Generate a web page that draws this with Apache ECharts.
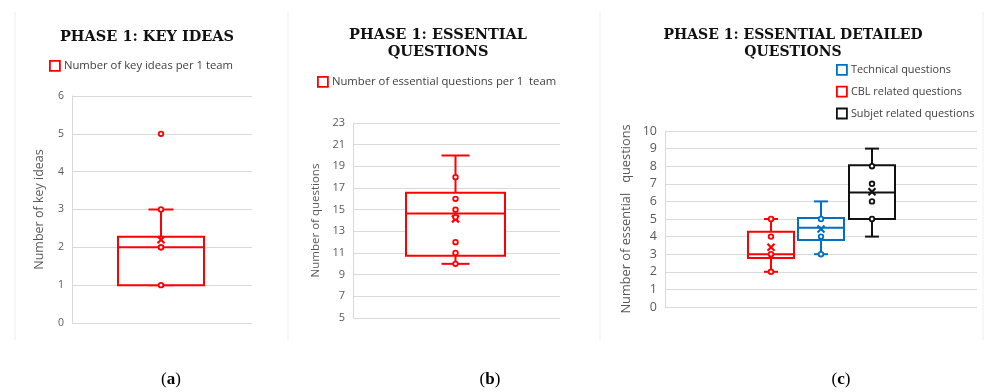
<!DOCTYPE html>
<html>
<head>
<meta charset="utf-8">
<script src="https://cdn.jsdelivr.net/npm/echarts@6/dist/echarts.min.js"></script>
<style>
html,body{margin:0;padding:0;background:#fff;}
#chart{width:985px;height:392px;}
</style>
</head>
<body>
<div id="chart"></div>
<script>
// ---------- data ----------
const panelTitles = ['PHASE 1: KEY IDEAS', 'PHASE 1: ESSENTIAL\nQUESTIONS', 'PHASE 1: ESSENTIAL DETAILED\nQUESTIONS'];
const panelLetters = ['a', 'b', 'c'];
const yAxisNames = ['Number of key ideas', 'Number of questions', 'Number of essential   questions'];

// box stats: [min, q1, median, q3, max]
const keyIdeasBox = [1, 1, 2, 2.28, 3];
const keyIdeasMean = 2.2;
const keyIdeasPoints = [1, 2, 2, 3, 5];

const essentialBox = [10, 10.75, 14.65, 16.57, 20];
const essentialMean = 14.15;
const essentialPoints = [10, 11, 12, 14.3, 15, 16, 18];

const cblBox = [2, 2.78, 3, 4.28, 5];
const cblMean = 3.4;
const cblPoints = [2, 3, 4, 5];

const technicalBox = [3, 3.8, 4.5, 5.05, 6];
const technicalMean = 4.43;
const technicalPoints = [3, 4, 5];

const subjectBox = [4, 5, 6.5, 8.05, 9];
const subjectMean = 6.55;
const subjectPoints = [5, 6, 7, 8];

const seriesNames = {
  keyIdeas: 'Number of key ideas per 1 team',
  essential: 'Number of essential questions per 1  team',
  technical: 'Technical questions',
  cbl: 'CBL related questions',
  subject: 'Subjet related questions'
};

// ---------- styles ----------
const RED = '#ff0000', BLUE = '#0070c0', BLACK = '#111111';
const GRID_COLOR = '#d9d9d9';
const LABEL_COLOR = '#595959';
const SANS = '"Open Sans", sans-serif';
const SERIF_TITLE = '"DejaVu Serif", serif';

function boxRenderer(color, offset, boxW, capW) {
  return function (params, api) {
    const x = api.value(0);
    const c = function (v) { return api.coord([x, v]); };
    const cx = c(api.value(1))[0] + offset;
    const yMin = c(api.value(1))[1];
    const yQ1 = c(api.value(2))[1];
    const yMed = c(api.value(3))[1];
    const yQ3 = c(api.value(4))[1];
    const yMax = c(api.value(5))[1];
    const yMean = c(api.value(6))[1];
    const ls = { stroke: color, lineWidth: 2, fill: null };
    const m = 3.5;
    return {
      type: 'group',
      children: [
        { type: 'line', shape: { x1: cx, y1: yQ3, x2: cx, y2: yMax }, style: ls },
        { type: 'line', shape: { x1: cx, y1: yQ1, x2: cx, y2: yMin }, style: ls },
        { type: 'line', shape: { x1: cx - capW / 2, y1: yMax, x2: cx + capW / 2, y2: yMax }, style: ls },
        { type: 'line', shape: { x1: cx - capW / 2, y1: yMin, x2: cx + capW / 2, y2: yMin }, style: ls },
        { type: 'rect', shape: { x: cx - boxW / 2, y: yQ3, width: boxW, height: yQ1 - yQ3 }, style: { fill: '#fff', stroke: color, lineWidth: 2 } },
        { type: 'line', shape: { x1: cx - boxW / 2, y1: yMed, x2: cx + boxW / 2, y2: yMed }, style: ls },
        { type: 'line', shape: { x1: cx - m, y1: yMean - m, x2: cx + m, y2: yMean + m }, style: { stroke: color, lineWidth: 2.2 } },
        { type: 'line', shape: { x1: cx - m, y1: yMean + m, x2: cx + m, y2: yMean - m }, style: { stroke: color, lineWidth: 2.2 } }
      ]
    };
  };
}

function pointRenderer(color, offset) {
  return function (params, api) {
    const p = api.coord([api.value(0), api.value(1)]);
    return {
      type: 'circle',
      shape: { cx: p[0] + offset, cy: p[1], r: 2.3 },
      style: { fill: '#fff', stroke: color, lineWidth: 1.8 }
    };
  };
}

function boxSeries(name, idx, box, mean, color, offset, boxW, capW) {
  return {
    type: 'custom', name: name, xAxisIndex: idx, yAxisIndex: idx,
    itemStyle: { color: color },
    renderItem: boxRenderer(color, offset, boxW, capW),
    encode: { x: 0, y: [1, 2, 3, 4, 5, 6] },
    data: [[0].concat(box).concat([mean])],
    z: 2, silent: true
  };
}
function pointSeries(idx, pts, color, offset) {
  return {
    type: 'custom', name: 'pts' + idx + color + offset, xAxisIndex: idx, yAxisIndex: idx,
    renderItem: pointRenderer(color, offset),
    encode: { x: 0, y: 1 },
    data: pts.map(function (v) { return [0, v]; }),
    z: 3, silent: true
  };
}

const grids = [
  { left: 72, right: 733, top: 96, bottom: 69 },
  { left: 353, right: 425, top: 123, bottom: 74 },
  { left: 665, right: 8, top: 131, bottom: 85 }
];
const yRanges = [[0, 6, 1], [5, 23, 2], [0, 10, 1]];
const yLabelSizes = [10.5, 11, 12.5];
const yNameSizes = [12.5, 11.5, 12.8];
const yNameGaps = [26, 31, 32];

function letterTitle(letter, x) {
  return { text: '({b|' + letter + '})', left: x, top: 366, textAlign: 'center',
    textStyle: { fontFamily: '"Liberation Serif", serif', fontSize: 17, color: '#000', fontWeight: 'normal',
      rich: { b: { fontFamily: '"Liberation Serif", serif', fontSize: 17, fontWeight: 'bold', color: '#000' } } } };
}

const option = {
  backgroundColor: '#fff',
  animation: false,
  title: [
    { text: panelTitles[0], left: 142, top: 24, textAlign: 'center',
      textStyle: { fontFamily: SERIF_TITLE, fontWeight: 'bold', fontSize: 14.5, color: '#111', lineHeight: 17 } },
    { text: panelTitles[1], left: 433, top: 22, textAlign: 'center',
      textStyle: { fontFamily: SERIF_TITLE, fontWeight: 'bold', fontSize: 14.5, color: '#111', lineHeight: 17, align: 'center' } },
    { text: panelTitles[2], left: 788, top: 22, textAlign: 'center',
      textStyle: { fontFamily: SERIF_TITLE, fontWeight: 'bold', fontSize: 14, color: '#111', lineHeight: 17, align: 'center' } },
    letterTitle(panelLetters[0], 166),
    letterTitle(panelLetters[1], 485),
    letterTitle(panelLetters[2], 836)
  ],
  legend: [
    { left: 44, top: 55, itemWidth: 10, itemHeight: 10, selectedMode: false,
      textStyle: { fontFamily: SANS, fontSize: 11.3, color: '#404040', padding: [0, 0, 0, -1] },
      data: [{ name: seriesNames.keyIdeas, icon: 'rect', itemStyle: { color: '#fff', borderColor: RED, borderWidth: 1.8 } }] },
    { left: 312, top: 71, itemWidth: 10, itemHeight: 10, selectedMode: false,
      textStyle: { fontFamily: SANS, fontSize: 11.3, color: '#404040', padding: [0, 0, 0, -1] },
      data: [{ name: seriesNames.essential, icon: 'rect', itemStyle: { color: '#fff', borderColor: RED, borderWidth: 1.8 } }] },
    { left: 831, top: 59, orient: 'vertical', itemWidth: 10, itemHeight: 10, itemGap: 10, selectedMode: false,
      textStyle: { fontFamily: SANS, fontSize: 10.9, color: '#404040', padding: [0, 0, 0, -1] },
      data: [
        { name: seriesNames.technical, icon: 'rect', itemStyle: { color: '#fff', borderColor: BLUE, borderWidth: 1.8 } },
        { name: seriesNames.cbl, icon: 'rect', itemStyle: { color: '#fff', borderColor: RED, borderWidth: 1.8 } },
        { name: seriesNames.subject, icon: 'rect', itemStyle: { color: '#fff', borderColor: BLACK, borderWidth: 1.8 } }
      ] }
  ],
  grid: grids,
  xAxis: [0, 1, 2].map(function (i) {
    return { type: 'category', gridIndex: i, data: [''], boundaryGap: true,
      axisLine: { show: false }, axisTick: { show: false }, axisLabel: { show: false }, splitLine: { show: false } };
  }),
  yAxis: [0, 1, 2].map(function (i) {
    return {
      type: 'value', gridIndex: i, min: yRanges[i][0], max: yRanges[i][1], interval: yRanges[i][2],
      name: yAxisNames[i], nameLocation: 'middle', nameGap: yNameGaps[i],
      nameTextStyle: { fontFamily: SANS, fontSize: yNameSizes[i], color: LABEL_COLOR },
      axisLine: { show: true, lineStyle: { color: GRID_COLOR, width: 1 } },
      axisTick: { show: false },
      axisLabel: { fontFamily: SANS, fontSize: yLabelSizes[i], color: LABEL_COLOR, margin: 8 },
      splitLine: { show: true, lineStyle: { color: GRID_COLOR, width: 1 } }
    };
  }),
  graphic: [15, 288, 600, 983].map(function (x) {
    return { type: 'line', shape: { x1: x, y1: 12, x2: x, y2: 340 }, style: { stroke: '#efefef', lineWidth: 1 }, silent: true };
  }),
  series: [
    boxSeries(seriesNames.keyIdeas, 0, keyIdeasBox, keyIdeasMean, RED, -1, 86, 25),
    pointSeries(0, keyIdeasPoints, RED, -1),
    boxSeries(seriesNames.essential, 1, essentialBox, essentialMean, RED, -1, 99, 28),
    pointSeries(1, essentialPoints, RED, -1),
    boxSeries(seriesNames.cbl, 2, cblBox, cblMean, RED, -50, 46, 14),
    pointSeries(2, cblPoints, RED, -50),
    boxSeries(seriesNames.technical, 2, technicalBox, technicalMean, BLUE, 0, 46, 14),
    pointSeries(2, technicalPoints, BLUE, 0),
    boxSeries(seriesNames.subject, 2, subjectBox, subjectMean, BLACK, 51, 46, 14),
    pointSeries(2, subjectPoints, BLACK, 51)
  ]
};

const chart = echarts.init(document.getElementById('chart'), null, { renderer: 'canvas' });
chart.setOption(option);
</script>
</body>
</html>
